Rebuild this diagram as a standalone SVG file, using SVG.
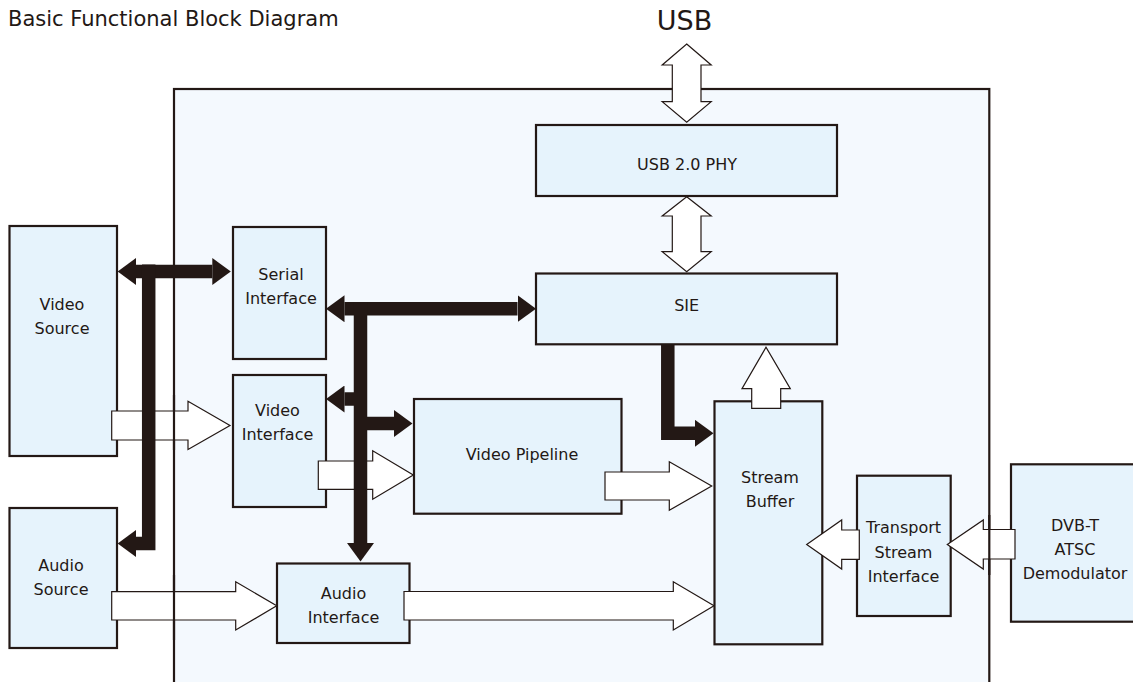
<svg xmlns="http://www.w3.org/2000/svg" width="1133" height="682" viewBox="0 0 1133 682">
<style>
  .box{fill:#e6f3fc;stroke:#231815;stroke-width:2.2}
  .frame{fill:#f4f9fe;stroke:#231815;stroke-width:2.2}
  .edge{fill:none;stroke:#231815;stroke-width:2.2}
  .t{font-family:"DejaVu Sans","Verdana",sans-serif;font-size:16px;fill:#231815;text-anchor:middle}
  .white{fill:#ffffff;stroke:#231815;stroke-width:1.2;stroke-linejoin:miter}
  .bus{fill:none;stroke:#231815;stroke-width:13.5;stroke-linejoin:miter;stroke-linecap:butt}
</style>
<defs>
  <marker id="head" markerUnits="userSpaceOnUse" markerWidth="18.5" markerHeight="27" viewBox="0 0 18.5 27" refX="0" refY="13.5" orient="auto-start-reverse">
    <path d="M0,0 L18.5,13.5 L0,27 z" fill="#231815"/>
  </marker>
</defs>
<rect width="1133" height="682" fill="#ffffff"/>
<text x="8" y="26" style="font-family:'DejaVu Sans','Verdana',sans-serif;font-size:21px;fill:#231815">Basic Functional Block Diagram</text>
<text x="684.5" y="30" style="font-family:'DejaVu Sans','Verdana',sans-serif;font-size:27px;fill:#231815;text-anchor:middle">USB</text>

<g id="container">
  <rect class="frame" x="174" y="89" width="815.3" height="600"/>
</g>

<g id="video-source">
  <rect class="box" x="9.5" y="226" width="107.5" height="230"/>
  <text class="t" x="62" y="310">Video</text>
  <text class="t" x="62" y="334">Source</text>
</g>
<g id="audio-source">
  <rect class="box" x="9.5" y="508" width="107.5" height="140"/>
  <text class="t" x="61" y="571">Audio</text>
  <text class="t" x="61" y="595">Source</text>
</g>
<g id="serial-interface">
  <rect class="box" x="233" y="227" width="93" height="132"/>
  <text class="t" x="281" y="280">Serial</text>
  <text class="t" x="281" y="304">Interface</text>
</g>
<g id="video-interface">
  <rect class="box" x="233" y="375" width="93" height="132"/>
  <text class="t" x="277.5" y="416">Video</text>
  <text class="t" x="277.5" y="440">Interface</text>
</g>
<g id="audio-interface">
  <rect class="box" x="277" y="563.5" width="132.5" height="79.5"/>
  <text class="t" x="343.5" y="598.5">Audio</text>
  <text class="t" x="343.5" y="622.7">Interface</text>
</g>
<g id="usb-phy">
  <rect class="box" x="536" y="125" width="301" height="71"/>
  <text class="t" x="687" y="169.5">USB 2.0 PHY</text>
</g>
<g id="sie">
  <rect class="box" x="536" y="273.5" width="301" height="70.8"/>
  <text class="t" x="686.7" y="311">SIE</text>
</g>
<g id="video-pipeline">
  <rect class="box" x="414" y="399" width="207.5" height="114.7"/>
  <text class="t" x="522" y="460">Video Pipeline</text>
</g>
<g id="stream-buffer">
  <rect class="box" x="714.5" y="401.3" width="107.8" height="243"/>
  <text class="t" x="770" y="482.7">Stream</text>
  <text class="t" x="770" y="506.7">Buffer</text>
</g>
<g id="transport-stream-interface">
  <rect class="box" x="857" y="475.7" width="93.7" height="140.3"/>
  <text class="t" x="903.5" y="533.3">Transport</text>
  <text class="t" x="903.5" y="557.7">Stream</text>
  <text class="t" x="903.5" y="582">Interface</text>
</g>
<g id="demodulator">
  <rect class="box" x="1011" y="464.3" width="130" height="157.4"/>
  <text class="t" x="1075" y="530.7">DVB-T</text>
  <text class="t" x="1075" y="555">ATSC</text>
  <text class="t" x="1075" y="579">Demodulator</text>
</g>

<g id="connectors">
  <polygon class="white" points="111.7,411 188,411 188,401.3 230,425.5 188,449.5 188,440 111.7,440"/>
  <polygon class="white" points="318.3,461 372.7,461 372.7,450.7 413.3,475 372.7,499.3 372.7,489.3 318.3,489.3"/>
  <polygon class="white" points="111.7,591.7 235.7,591.7 235.7,581.7 276.7,605.8 235.7,630 235.7,620 111.7,620"/>
  <polygon class="white" points="605,472 669.3,472 669.3,461.7 711.7,486 669.3,510.3 669.3,500 605,500"/>
  <polygon class="white" points="404,591.5 673.3,591.5 673.3,581.7 714,605.8 673.3,630 673.3,620 404,620"/>
  <polygon class="white" points="859.3,530 841.7,530 841.7,520 806.7,544.5 841.7,569 841.7,559.3 859.3,559.3"/>
  <polygon class="white" points="1015,529.5 983.3,529.5 983.3,520 947.3,544.4 983.3,569 983.3,559 1015,559"/>
  <polygon class="white" points="751.7,408.3 751.7,388.7 742,388.7 766,347.3 790.3,388.7 780.7,388.7 780.7,408.3"/>
  <polygon class="white" points="686.7,44 711.2,65 701,65 701,101.7 711.2,101.7 686.7,122.3 662.2,101.7 672.3,101.7 672.3,65 662.2,65"/>
  <polygon class="white" points="686.7,196.7 711.2,216 701,216 701,251.7 711.2,251.7 686.7,271.7 662.2,251.7 672.3,251.7 672.3,216 662.2,216"/>

  <path class="bus" d="M136,271.5 H212.3" marker-start="url(#head)" marker-end="url(#head)"/>
  <path class="bus" d="M148.7,264.5 V543.5 H136" marker-end="url(#head)"/>
  <path class="bus" d="M344.5,308.7 H517.5" marker-start="url(#head)" marker-end="url(#head)"/>
  <path class="bus" d="M360.5,302 V543" marker-end="url(#head)"/>
  <path class="bus" d="M354,399 H344.5" marker-end="url(#head)"/>
  <path class="bus" d="M367,423.5 H394" marker-end="url(#head)"/>
  <path class="bus" d="M667.8,344.5 V433.3 H695" marker-end="url(#head)"/>
</g>

<g id="container-edges">
  <path class="edge" d="M174,395 V450 M174,575 V640 M989.3,515 V575"/>
</g>
</svg>
